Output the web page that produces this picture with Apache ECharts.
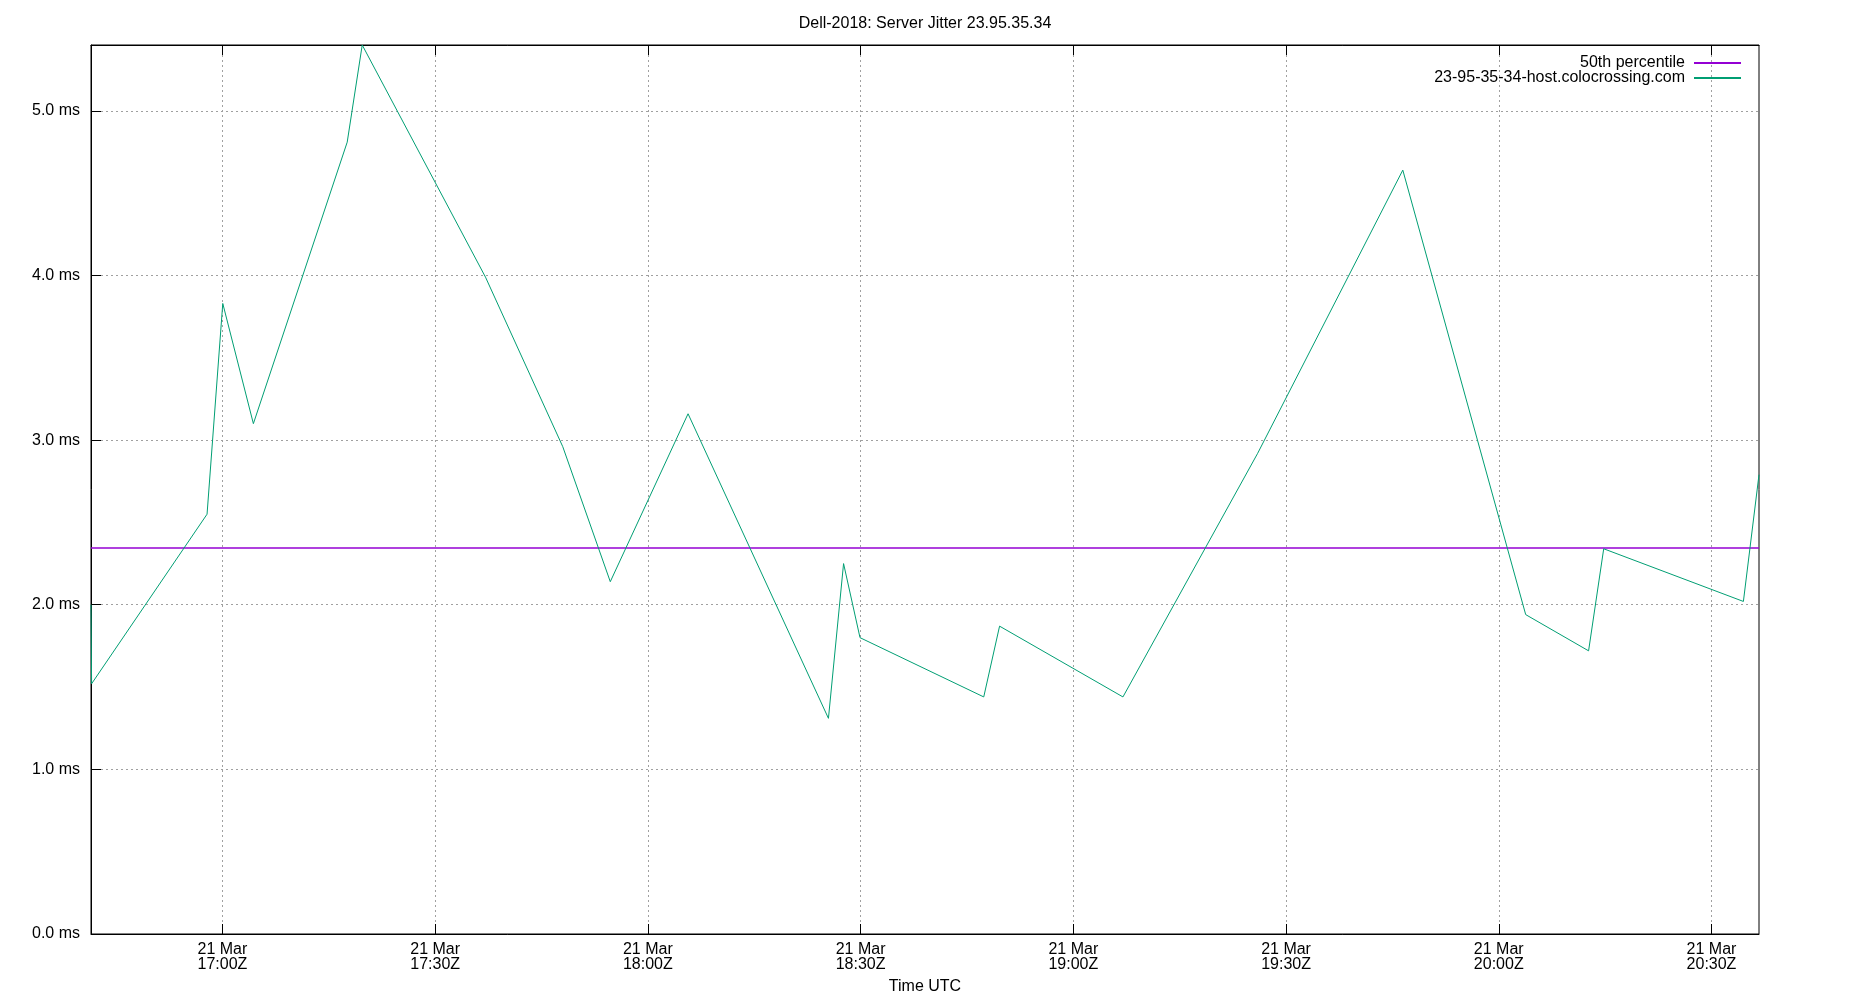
<!DOCTYPE html>
<html><head><meta charset="utf-8">
<script src="https://cdn.jsdelivr.net/npm/echarts@6/dist/echarts.min.js"></script>
<style>html,body{margin:0;padding:0;background:#fff}#c{width:1850px;height:1000px}</style>
</head><body><div id="c"></div>
<script>
// ---- data ----
const titleText = 'Dell-2018: Server Jitter 23.95.35.34';
const hostName = '23-95-35-34-host.colocrossing.com';
const medianName = '50th percentile';
const times = ['16:41:28','16:41:33','16:57:50','17:00:03','17:04:22','17:17:36','17:19:43',
  '17:37:06','17:48:00','17:54:42','18:05:40','18:25:28','18:27:36','18:29:55','18:47:22',
  '18:49:36','19:07:00','19:26:00','19:46:28','20:03:48','20:12:40','20:14:48','20:34:30','20:36:42'];
const jitter = [2.00,1.52,2.55,3.83,3.10,4.81,5.40,
  3.99,2.96,2.14,3.16,1.31,2.25,1.80,1.44,
  1.87,1.44,2.92,4.64,1.94,1.72,2.34,2.02,2.79];
const median50 = 2.345;
const tickTimes = ['17:00','17:30','18:00','18:30','19:00','19:30','20:00','20:30'];
const tickLabels = ['21 Mar\n17:00Z','21 Mar\n17:30Z','21 Mar\n18:00Z','21 Mar\n18:30Z',
  '21 Mar\n19:00Z','21 Mar\n19:30Z','21 Mar\n20:00Z','21 Mar\n20:30Z'];
const yTicks = [0,1,2,3,4,5];
const yTickLabels = ['0.0 ms','1.0 ms','2.0 ms','3.0 ms','4.0 ms','5.0 ms'];

// ---- build ----
function t(hms){ const p = hms.split(':').map(Number); return Date.UTC(2018,2,21,p[0],p[1],p[2]||0); }
const xs = times.map(t);
const tickVals = tickTimes.map(t);
const xMin = xs[0], xMax = xs[xs.length-1];
const hostData = xs.map((x,i)=>[x, jitter[i]]);
const medData = [[xMin, median50],[xMax, median50]];
const F = '"Liberation Sans", Arial, sans-serif';

const chart = echarts.init(document.getElementById('c'), null, {renderer:'canvas'});
const legendBase = {
  orient:'horizontal', align:'right', right:108, padding:0, itemWidth:47, itemHeight:15,
  selectedMode:false, itemStyle:{opacity:0},
  textStyle:{fontSize:16, fontFamily:F, color:'#000', padding:[0,4,0,0]}
};
chart.setOption({
  animation:false,
  backgroundColor:'#fff',
  title:{text:titleText, left:'center', top:15, padding:0,
    textStyle:{fontSize:16, fontWeight:'normal', fontFamily:F, color:'#000', lineHeight:18}},
  legend:[
    Object.assign({}, legendBase, {data:[medianName], top:55}),
    Object.assign({}, legendBase, {data:[hostName], top:70})
  ],
  grid:{left:91, right:91, top:45, bottom:64, show:true, borderColor:'#000', borderWidth:1, backgroundColor:'transparent'},
  xAxis:[{
    type:'value', min:xMin, max:xMax, position:'bottom',
    name:'Time UTC', nameLocation:'middle', nameGap:45,
    nameTextStyle:{fontSize:16, fontFamily:F, color:'#000'},
    axisLine:{show:true, lineStyle:{color:'#000', width:1}},
    axisTick:{show:true, inside:true, length:10, customValues:tickVals, lineStyle:{color:'#000'}},
    axisLabel:{customValues:tickVals, margin:8, fontSize:16, fontFamily:F, color:'#000', lineHeight:15,
      formatter:v=>{const i=tickVals.indexOf(v); return i>=0?tickLabels[i]:'';}},
    splitLine:{show:true, lineStyle:{color:'#a0a0a0', width:1, type:[2,3]}}
  },{
    type:'value', min:xMin, max:xMax, position:'top',
    axisLine:{show:true, lineStyle:{color:'#000', width:1}},
    axisTick:{show:true, inside:true, length:10, customValues:tickVals, lineStyle:{color:'#000'}},
    axisLabel:{show:false, customValues:tickVals},
    splitLine:{show:false}
  }],
  yAxis:{
    type:'value', min:0, max:v=>v.max,
    axisLine:{show:true, lineStyle:{color:'#000', width:1}},
    axisTick:{show:true, inside:true, length:10, customValues:yTicks, lineStyle:{color:'#000'}},
    axisLabel:{customValues:yTicks, margin:11, fontSize:16, fontFamily:F, color:'#000',
      formatter:v=>{const i=yTicks.indexOf(v); return i>=0?yTickLabels[i]:'';}},
    splitLine:{show:true, lineStyle:{color:'#a0a0a0', width:1, type:[2,3]}}
  },
  series:[
    {name:medianName, type:'line', data:medData, symbol:'none', xAxisIndex:0,
      lineStyle:{color:'#9400d3', width:1.5}, itemStyle:{color:'#9400d3', opacity:0}, z:3},
    {name:hostName, type:'line', data:hostData, symbol:'none', xAxisIndex:0,
      lineStyle:{color:'#009e73', width:1}, itemStyle:{color:'#009e73', opacity:0}, z:4}
  ]
});
</script></body></html>
